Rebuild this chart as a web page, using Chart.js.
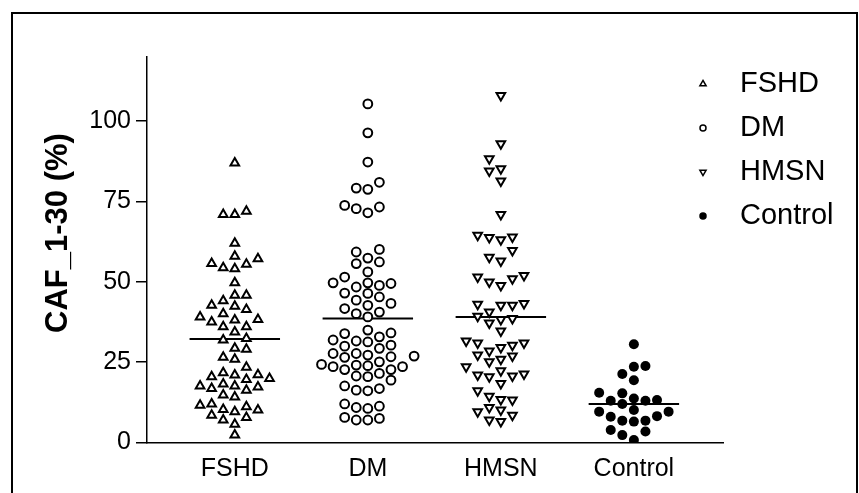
<!DOCTYPE html>
<html>
<head>
<meta charset="utf-8">
<script src="https://cdn.jsdelivr.net/npm/chart.js@4.4.0/dist/chart.umd.min.js"></script>
<style>
  body { margin: 0; background: #fff; }
  canvas { display: block; }
</style>
</head>
<body>
<canvas id="myChart" width="859" height="493"></canvas>
<script>
const categories = ['FSHD', 'DM', 'HMSN', 'Control'];

// values (CAF_1-30, %)
const fshd = [87, 72, 71, 71, 62, 58, 57.2, 55.7, 55.5, 54.4, 54.1, 49.7, 45.8, 45.8, 44.1,
  42.7, 42.4, 41.4, 40.1, 39.1, 38.3, 38.1, 37.5, 36.0, 36.0, 34.4, 32.4, 31.9, 29.3, 29.0,
  26.5, 25.9, 23.4, 21.7, 21.1, 21.0, 20.5, 19.9, 19.6, 18.2, 17.6, 17.6, 17.3, 16.8, 16.3,
  14.8, 14.2, 12.0, 11.6, 11.1, 10.3, 10.1, 9.6, 8.5, 7.8, 7.0, 5.7, 2.3];
const dm = [105.4, 96.4, 87.3, 81.0, 78.8, 79.2, 73.8, 72.8, 71.5, 73.3, 60.1, 59.3, 57.4,
  55.7, 56.2, 53.1, 51.5, 49.7, 49.5, 48.4, 48.9, 49.7, 46.4, 44.3, 43.3, 45.3, 46.5, 42.7,
  40.6, 39.1, 40.1, 41.7, 34.1, 31.9, 35.0, 31.3, 31.6, 32.9, 33.9, 30.0, 30.3, 29.3, 26.5,
  27.7, 27.2, 26.9, 27.7, 26.7, 22.7, 24.3, 21.5, 23.9, 23.6, 23.6, 24.1, 25.1, 22.7, 20.5,
  19.4, 20.7, 16.8, 16.1, 16.3, 17.6, 12.0, 10.9, 10.6, 11.3, 7.5, 7.0, 7.0, 7.8];
const hmsn = [108, 93, 88.3, 84.5, 85.2, 81.4, 71, 64.5, 63.8, 63.1, 64.0, 59.8, 56.5, 57.7,
  51.0, 52.0, 50.0, 48.9, 51.5, 40.6, 42.7, 42.7, 43.0, 43.3, 38.6, 38.3, 39.3, 37.2, 34.7,
  31.6, 31.0, 29.6, 28.5, 30.3, 31.0, 27.2, 25.9, 23.6, 25.1, 26.9, 22.3, 21.0, 20.5, 18.4,
  20.7, 21.3, 16.1, 14.4, 13.4, 13.2, 10.1, 8.5, 10.9, 6.5, 7.0, 9.6];
const control = [30.6, 23.6, 23.8, 21.3, 19.4, 15.5, 15.3, 13.0, 13.7, 12.0, 13.2, 13.0,
  9.6, 8.0, 9.6, 10.1, 8.2, 6.5, 6.8, 6.8, 3.4, 2.3, 3.9, 0.8];
const groupMeans = [32.2, 38.6, 39.1, 12.0];

const COL_STEP = 0.087;   // one marker width, in category units
const MIN_GAP = 3.3;      // one marker height, in y units

// column scatter: put each value in the nearest free column
function swarm(values, index) {
  const placed = [];
  return values.slice().sort((a, b) => a - b).map(v => {
    for (let k = 0; k < 30; k++) {
      const col = k === 0 ? 0 : (k % 2 ? -Math.ceil(k / 2) : Math.ceil(k / 2));
      if (!placed.some(p => p.col === col && Math.abs(p.v - v) < MIN_GAP)) {
        placed.push({col: col, v: v});
        return {x: index + col * COL_STEP, y: v};
      }
    }
  });
}

function meanLine(i) {
  return {
    type: 'line',
    label: 'mean',
    data: [{x: i - 0.34, y: groupMeans[i]}, {x: i + 0.34, y: groupMeans[i]}],
    borderColor: '#000',
    borderWidth: 2,
    pointRadius: 0,
    isMean: true
  };
}

const FONT = "'Liberation Sans', Arial, sans-serif";

const framePlugin = {
  id: 'frame',
  beforeDraw(chart) {
    const c = chart.ctx;
    c.save();
    c.strokeStyle = '#000';
    c.lineWidth = 2;
    c.strokeRect(12, 13, 845, 600);
    c.restore();
  },
  afterDraw(chart) {
    const c = chart.ctx;
    c.save();
    // y axis title
    c.translate(58, 233);
    c.rotate(-Math.PI / 2);
    c.font = "bold 31px " + FONT;
    c.fillStyle = '#000';
    c.textAlign = 'center';
    c.textBaseline = 'middle';
    c.fillText('CAF_1-30 (%)', 0, 0);
    c.restore();

    // legend
    c.save();
    let row = 0;
    chart.data.datasets.forEach(ds => {
      if (ds.isMean) return;
      const y = 84 + row * 44;
      c.fillStyle = ds.backgroundColor;
      c.strokeStyle = '#000';
      c.lineWidth = 1.5;
      Chart.helpers.drawPoint(c, {
        pointStyle: ds.pointStyle,
        rotation: ds.pointRotation || 0,
        radius: ds.pointStyle === 'triangle' ? 3.6 : 3,
        borderWidth: 1.5
      }, 703, y);
      c.fillStyle = '#000';
      c.font = "29px " + FONT;
      c.textAlign = 'left';
      c.textBaseline = 'middle';
      c.fillText(ds.label, 740, y);
      row++;
    });
    c.restore();
  }
};

const ctx = document.getElementById('myChart');
new Chart(ctx, {
  type: 'scatter',
  data: {
    datasets: [
      {label: 'FSHD', data: swarm(fshd, 0), pointStyle: 'triangle', pointRadius: 5,
        backgroundColor: '#fff', borderColor: '#000', borderWidth: 2},
      {label: 'DM', data: swarm(dm, 1), pointStyle: 'circle', pointRadius: 4.4,
        backgroundColor: '#fff', borderColor: '#000', borderWidth: 2},
      {label: 'HMSN', data: swarm(hmsn, 2), pointStyle: 'triangle', pointRotation: 180, pointRadius: 5,
        backgroundColor: '#fff', borderColor: '#000', borderWidth: 2},
      {label: 'Control', data: swarm(control, 3), pointStyle: 'circle', pointRadius: 5,
        backgroundColor: '#000', borderColor: '#000', borderWidth: 0},
      meanLine(0), meanLine(1), meanLine(2), meanLine(3)
    ]
  },
  options: {
    responsive: false,
    animation: false,
    devicePixelRatio: 1,
    layout: {padding: {left: 0, top: 57, right: 136, bottom: 0}},
    plugins: {legend: {display: false}, tooltip: {enabled: false}},
    scales: {
      x: {
        type: 'linear',
        min: -0.66,
        max: 3.67,
        afterFit: s => { s.height = 50.5; },
        grid: {display: false, drawTicks: false},
        border: {display: true, color: '#000', width: 1.5},
        ticks: {
          stepSize: 1,
          includeBounds: false,
          padding: 12,
          color: '#000',
          font: {family: FONT, size: 25},
          callback: v => categories[v] || ''
        }
      },
      y: {
        min: 0,
        max: 120,
        afterFit: s => { s.width = 147; },
        grid: {display: true, drawOnChartArea: false, drawTicks: true, tickLength: 11, color: '#000', lineWidth: 1.5},
        border: {display: true, color: '#000', width: 1.5},
        ticks: {
          stepSize: 25,
          includeBounds: false,
          padding: 5,
          color: '#000',
          font: {family: FONT, size: 25}
        }
      }
    }
  },
  plugins: [framePlugin]
});
</script>
</body>
</html>
